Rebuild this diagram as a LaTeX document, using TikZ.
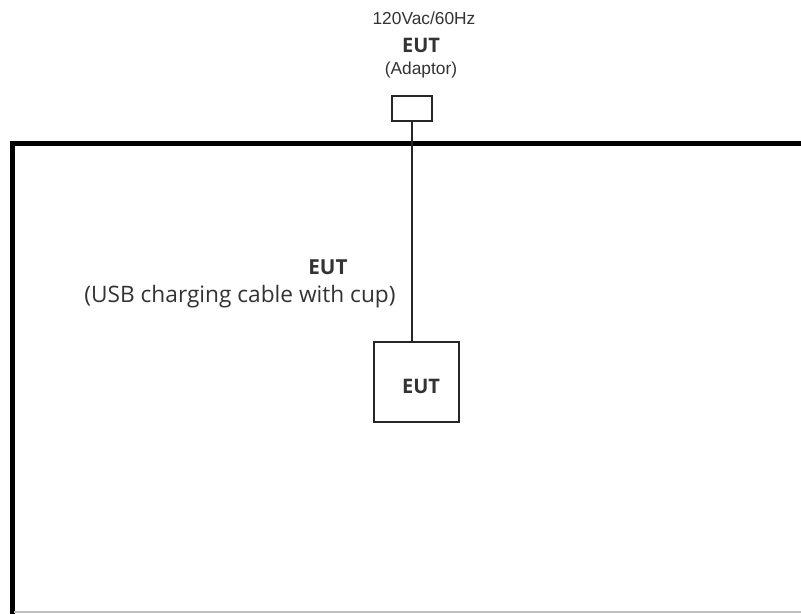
\documentclass[tikz,border=0pt]{standalone}
\usepackage{fontspec}
\setmainfont{Open Sans}
\newfontfamily\arialf{Liberation Sans}
\begin{document}
\begin{tikzpicture}[x=0.75pt,y=-0.75pt,
  boxst/.style={draw=black!85,line width=1.5pt,inner sep=0pt},
  wire/.style={draw=black!85,line width=1.5pt},
  frame/.style={draw=black,line width=3.6pt},
  lbl/.style={inner sep=0pt,text=black!80}]
\useasboundingbox (0,0) rectangle (801,614);
\fill[white] (0,0) rectangle (801,614);
% frame
\coordinate (fbl) at (12.5,616);
\coordinate (ftl) at (12.5,143.5);
\coordinate (ftr) at (803,143.5);
\draw[frame,line join=miter] (fbl) -- (ftl) -- (ftr);
\coordinate (bbl) at (14,612);
\coordinate (bbr) at (801,612);
\draw[black!25,line width=1pt] (bbl) -- (bbr);
% adaptor and EUT
\node[boxst,minimum width=40*0.75pt,minimum height=25*0.75pt] (adp) at (411.5,108) {};
\node[boxst,minimum width=85*0.75pt,minimum height=80*0.75pt] (eut) at (416.5,382) {};
\draw[wire] (adp.south) -- (adp.south |- eut.north);
% labels
\node[lbl,font=\arialf\fontsize{13pt}{15pt}\selectfont] (v) at (424,18) {120Vac/60Hz};
\node[lbl,font=\fontsize{15pt}{17pt}\selectfont\bfseries] (e1) at (421,45) {EUT};
\node[lbl,font=\arialf\fontsize{13pt}{15pt}\selectfont] (a1) at (421,70) {(Adaptor)};
\node[lbl,font=\fontsize{15.5pt}{17pt}\selectfont\bfseries] (e2) at (328,267) {EUT};
\node[lbl,font=\fontsize{17pt}{19pt}\selectfont] (u1) at (240,297) {(USB charging cable with cup)};
\node[lbl,font=\fontsize{15pt}{17pt}\selectfont\bfseries] (e3) at (421,386) {EUT};
\end{tikzpicture}
\end{document}
